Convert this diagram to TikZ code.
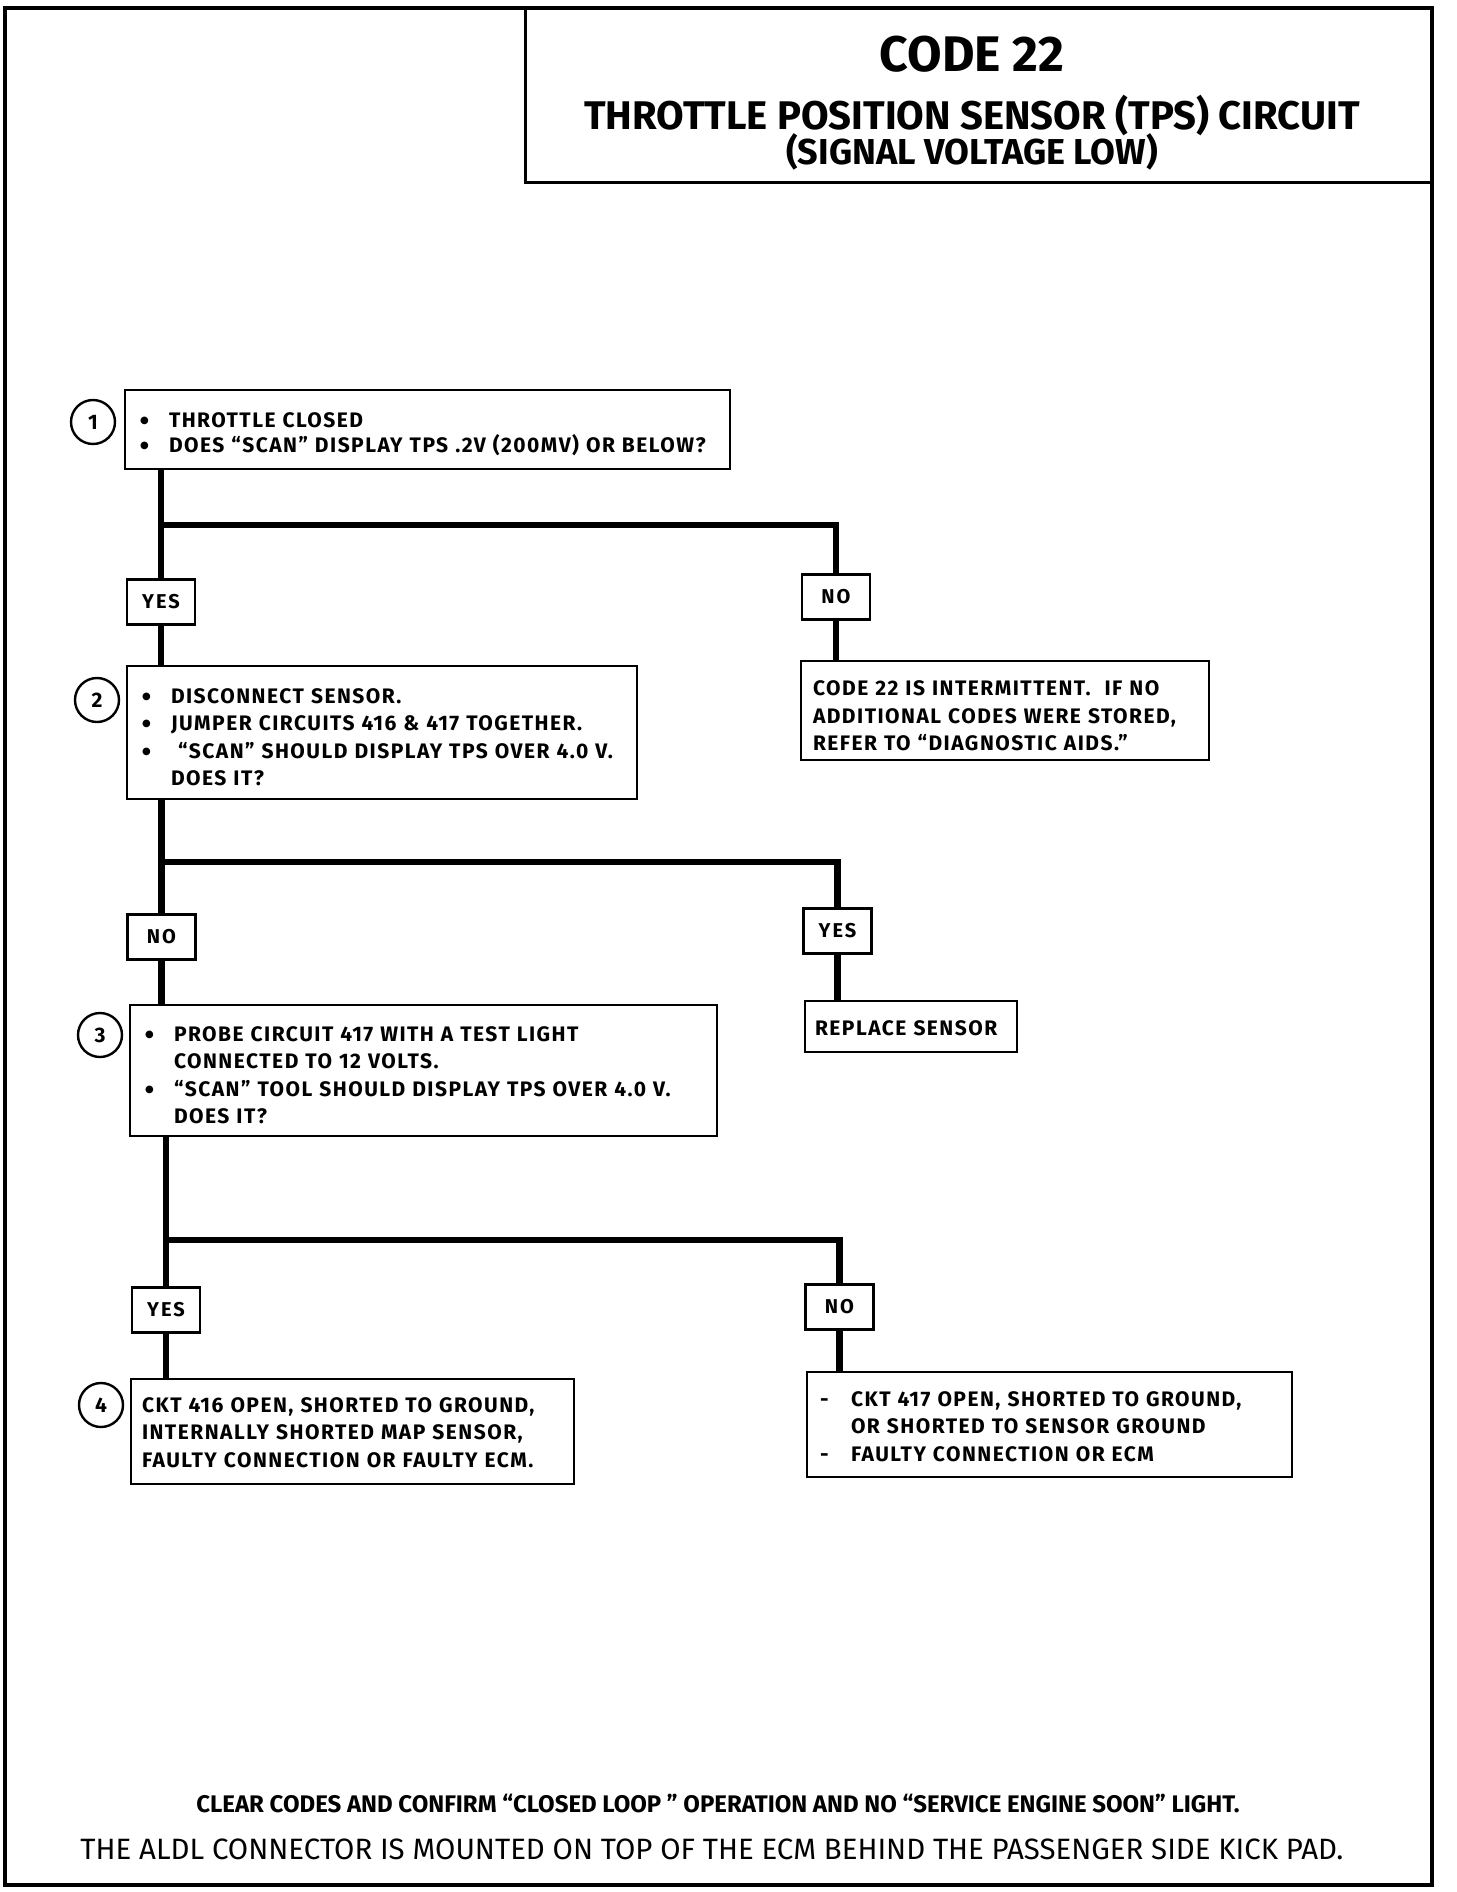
\documentclass[tikz,border=0pt]{standalone}
\usepackage{fontspec}
\setmainfont{Fira Sans}
\newfontfamily\bodyfont[LetterSpace=7]{Fira Sans}
\newfontfamily\lblfont[LetterSpace=10]{Fira Sans}
\newfontfamily\djv{DejaVu Sans}
\newcommand\dotmark{\raisebox{0.35ex}{\djv\fontsize{10}{10}\selectfont ●}}
\newcommand\bul[1]{\mbox{\makebox[30pt][l]{\hspace*{1pt}\dotmark}#1}}
\newcommand\cnt[1]{\mbox{\hspace*{30pt}#1}}
\newcommand\dsh[1]{\mbox{\makebox[33pt][l]{\hspace*{2pt}-}#1}}
\newcommand\dcnt[1]{\mbox{\hspace*{33pt}#1}}
\newcommand\lin[1]{\mbox{#1}}
\newcommand\stt[1]{\rule{0pt}{#1}}
\begin{document}
\begin{tikzpicture}[x=1pt,y=-1pt,
  txt/.style={font=\bodyfont\fontsize{21}{27.5}\selectfont\bfseries},
  box/.style={draw, line width=2.4pt, fill=white, align=left, anchor=north west,
    txt, inner ysep=0pt, outer sep=0pt},
  lbl/.style={draw, line width=2.4pt, fill=white, minimum width=68pt,
    minimum height=45pt, inner sep=0pt, outer sep=0pt,
    font=\lblfont\fontsize{20}{22}\selectfont\bfseries},
  num/.style={draw, circle, line width=2.4pt, minimum size=44pt, inner sep=0pt,
    font=\fontsize{21}{22}\selectfont\bfseries},
  conn/.style={line width=6.5pt},
]
\useasboundingbox (0,0) rectangle (1456,1892);
\draw[line width=3.5pt] (5,8) rectangle (1432,1885);
\node[draw, line width=3pt, anchor=north west, outer sep=0pt,
  minimum width=907pt, minimum height=174pt] (title) at (525,8) {};
\node[font=\fontsize{50}{52}\selectfont\bfseries] (t1) at (972,54) {CODE 22};
\node[font=\fontsize{40}{42}\selectfont\bfseries] (t2) at (972,115) {THROTTLE POSITION SENSOR (TPS) CIRCUIT};
\node[font=\fontsize{36}{38}\selectfont\bfseries] (t3) at (972,152) {(SIGNAL VOLTAGE LOW)};

% question boxes
\node[box, minimum width=605pt, minimum height=79pt, inner xsep=14pt, text width=577pt,
  font=\bodyfont\fontsize{21}{24.5}\selectfont\bfseries]
  (b1) at (125,390) {\stt{24pt}\bul{THROTTLE CLOSED}\\ \bul{DOES “SCAN” DISPLAY TPS .2V (200MV) OR BELOW?}};
\node[box, minimum width=510pt, minimum height=133pt, inner xsep=14pt, text width=482pt]
  (b2) at (127,666) {\stt{24pt}\bul{DISCONNECT SENSOR.}\\ \bul{JUMPER CIRCUITS 416 \& 417 TOGETHER.}\\
  \bul{ “SCAN” SHOULD DISPLAY TPS OVER 4.0 V.}\\ \cnt{DOES IT?}};
\node[box, minimum width=587pt, minimum height=131pt, inner xsep=14pt, text width=559pt]
  (b3) at (130,1005) {\stt{24pt}\bul{PROBE CIRCUIT 417 WITH A TEST LIGHT}\\ \cnt{CONNECTED TO 12 VOLTS.}\\
  \bul{“SCAN” TOOL SHOULD DISPLAY TPS OVER 4.0 V.}\\ \cnt{DOES IT?}};
\node[box, minimum width=443pt, minimum height=105pt, inner xsep=11pt, text width=421pt]
  (b4) at (131,1379) {\stt{17pt}\lin{CKT 416 OPEN, SHORTED TO GROUND,}\\ \lin{INTERNALLY SHORTED MAP SENSOR,}\\ \lin{FAULTY CONNECTION OR FAULTY ECM.}};
\node[box, minimum width=408pt, minimum height=99pt, inner xsep=12pt, text width=384pt]
  (int) at (801,661) {\stt{26pt}\lin{CODE 22 IS INTERMITTENT.\ \ IF NO}\\ \lin{ADDITIONAL CODES WERE STORED,}\\ \lin{REFER TO “DIAGNOSTIC AIDS.”}};
\node[box, minimum width=212pt, minimum height=51pt, inner xsep=10pt, text width=192pt]
  (rep) at (805,1001) {\stt{19pt}\lin{REPLACE SENSOR}};
\node[box, minimum width=485pt, minimum height=105pt, inner xsep=11pt, text width=463pt]
  (r4) at (807,1372) {\stt{19pt}\dsh{CKT 417 OPEN, SHORTED TO GROUND,}\\ \dcnt{OR SHORTED TO SENSOR GROUND}\\ \dsh{FAULTY CONNECTION OR ECM}};

% step numbers
\node[num] (n1) at (93,422) {1};
\node[num] (n2) at (97,700) {2};
\node[num] (n3) at (100,1035) {3};
\node[num] (n4) at (101,1405) {4};

% yes / no labels
\node[lbl] (yes1) at (161,602) {YES};
\node[lbl] (no1) at (836,597) {NO};
\node[lbl] (no2) at (161.5,937) {NO};
\node[lbl] (yes2) at (837.5,931) {YES};
\node[lbl] (yes3) at (166,1310) {YES};
\node[lbl] (no3) at (839.5,1307) {NO};

% connectors
\coordinate (j1) at (161,525);
\coordinate (j2) at (161.5,862);
\coordinate (j3) at (166,1240);
\draw[conn] (yes1 |- b1.south) -- (yes1.north);
\draw[conn] (j1) -| (no1.north);
\draw[conn] (no1.south) -- (no1 |- int.north);
\draw[conn] (yes1.south) -- (yes1 |- b2.north);
\draw[conn] (no2 |- b2.south) -- (no2.north);
\draw[conn] (j2) -| (yes2.north);
\draw[conn] (yes2.south) -- (yes2 |- rep.north);
\draw[conn] (no2.south) -- (no2 |- b3.north);
\draw[conn] (yes3 |- b3.south) -- (yes3.north);
\draw[conn] (j3) -| (no3.north);
\draw[conn] (yes3.south) -- (yes3 |- b4.north);
\draw[conn] (no3.south) -- (no3 |- r4.north);

% footer
\node[font=\fontsize{24}{26}\selectfont\bfseries] (f1) at (718,1803)
  {CLEAR CODES AND CONFIRM “CLOSED LOOP ” OPERATION AND NO “SERVICE ENGINE SOON” LIGHT.};
\node[font=\fontsize{29.4}{31}\selectfont] (f2) at (712,1849)
  {THE ALDL CONNECTOR IS MOUNTED ON TOP OF THE ECM BEHIND THE PASSENGER SIDE KICK PAD.};
\end{tikzpicture}
\end{document}
